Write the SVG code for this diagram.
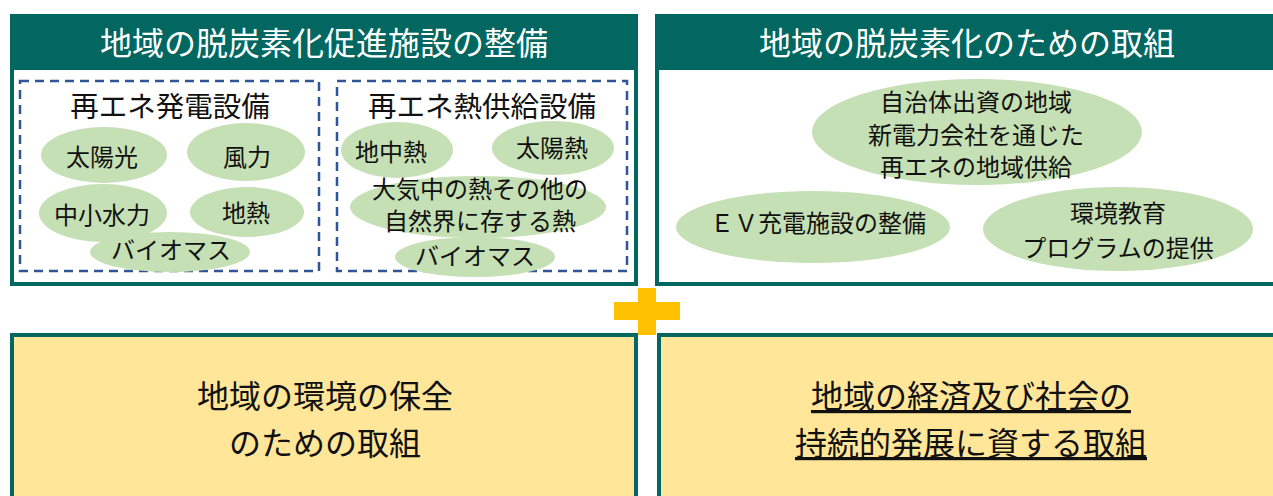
<svg xmlns="http://www.w3.org/2000/svg" width="1273" height="496" viewBox="0 0 1273 496">
<style>
text{font-family:"Noto Sans CJK JP","Noto Sans",sans-serif;fill:#111;text-anchor:middle}
.hd{fill:#fff;font-size:32px}
.ttl{font-size:28.5px}
.lb{font-size:24px}
.bt{font-size:32px}
.u{text-decoration:underline}
.panel{fill:#fff;stroke:#016760;stroke-width:4}
.bar{fill:#016760}
.yel{fill:#FFE699;stroke:#016760;stroke-width:4}
.dash{fill:none;stroke:#2F5597;stroke-width:2.5;stroke-dasharray:9,6}
.el{fill:#C5E0B4}
.plus{fill:#FFC000}
</style>
<g id="panel-facilities">
<rect class="panel" x="12" y="16" width="624" height="268"/>
<rect class="bar" x="10" y="14" width="628" height="56"/>
<text class="hd" x="324" y="55">地域の脱炭素化促進施設の整備</text>
</g>
<g id="group-power">
<rect class="dash" x="20" y="81" width="299" height="190"/>
<text class="ttl" x="170" y="117">再エネ発電設備</text>
<ellipse class="el" cx="104" cy="155" rx="63" ry="28"/>
<ellipse class="el" cx="246" cy="152" rx="59" ry="29"/>
<ellipse class="el" cx="103" cy="213" rx="64" ry="29"/>
<ellipse class="el" cx="247" cy="212" rx="57" ry="25"/>
<ellipse class="el" cx="170" cy="252" rx="80" ry="20"/>
<text class="lb" x="102" y="166">太陽光</text>
<text class="lb" x="247" y="166">風力</text>
<text class="lb" x="102" y="224">中小水力</text>
<text class="lb" x="246" y="222">地熱</text>
<text class="lb" x="171" y="259">バイオマス</text>
</g>
<g id="group-heat">
<rect class="dash" x="337" y="81" width="290" height="190"/>
<text class="ttl" x="482" y="117">再エネ熱供給設備</text>
<ellipse class="el" cx="397" cy="150" rx="56" ry="28"/>
<ellipse class="el" cx="553" cy="148" rx="61" ry="27"/>
<ellipse class="el" cx="478" cy="207" rx="128" ry="31"/>
<ellipse class="el" cx="475" cy="257" rx="80" ry="20"/>
<text class="lb" x="391" y="161">地中熱</text>
<text class="lb" x="552" y="157">太陽熱</text>
<text class="lb" x="480" y="198">大気中の熱その他の</text>
<text class="lb" x="480" y="230">自然界に存する熱</text>
<text class="lb" x="475" y="265">バイオマス</text>
</g>
<g id="panel-initiatives">
<rect class="panel" x="657" y="16" width="620" height="268"/>
<rect class="bar" x="655" y="14" width="622" height="56"/>
<text class="hd" x="967" y="55">地域の脱炭素化のための取組</text>
<ellipse class="el" cx="977" cy="132" rx="165" ry="53"/>
<ellipse class="el" cx="813" cy="227" rx="137" ry="36"/>
<ellipse class="el" cx="1118" cy="229" rx="135" ry="42"/>
<text class="lb" x="976" y="111">自治体出資の地域</text>
<text class="lb" x="976" y="144">新電力会社を通じた</text>
<text class="lb" x="976" y="176">再エネの地域供給</text>
<text class="lb" x="818" y="232">ＥＶ充電施設の整備</text>
<text class="lb" x="1118" y="222">環境教育</text>
<text class="lb" x="1118" y="257">プログラムの提供</text>
</g>
<g id="panel-environment">
<rect class="yel" x="12" y="335" width="624" height="170"/>
<text class="bt" x="325" y="408">地域の環境の保全</text>
<text class="bt" x="325" y="455">のための取組</text>
</g>
<g id="panel-economy">
<rect class="yel" x="659" y="335" width="620" height="170"/>
<text class="bt u" x="971" y="408">地域の経済及び社会の</text>
<text class="bt u" x="971" y="455">持続的発展に資する取組</text>
</g>
<g id="connectors">
<g id="plus">
<rect class="plus" x="614" y="302" width="66" height="18"/>
<rect class="plus" x="638" y="288" width="18" height="47"/>
</g>
</g>
</svg>
